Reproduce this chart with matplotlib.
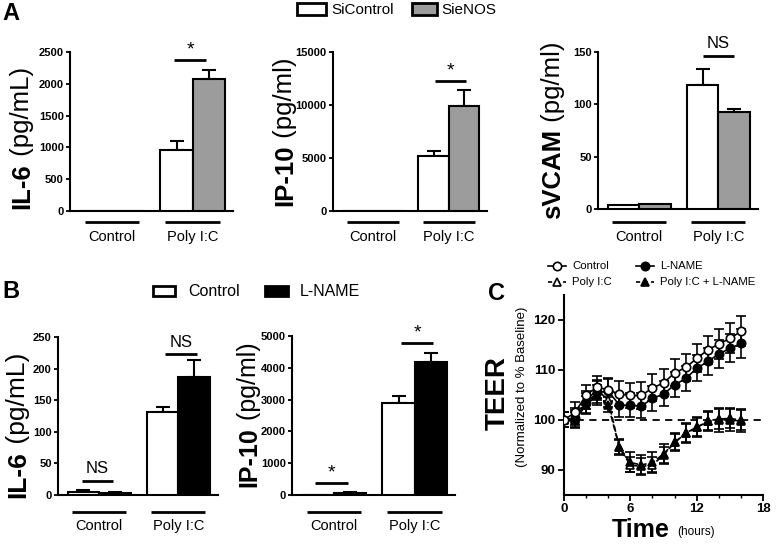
import matplotlib
matplotlib.use("Agg")
import matplotlib.pyplot as plt
import matplotlib.transforms as mtrans
from matplotlib.patches import Rectangle
from matplotlib.lines import Line2D
import numpy as np

plt.rcParams['font.family'] = ['Liberation Sans', 'DejaVu Sans']

# ---------------- data ----------------
categories = ["Control", "Poly I:C"]
legend_A = ["SiControl", "SieNOS"]
legend_B = ["Control", "L-NAME"]

il6_A_si = [0, 960]
il6_A_si_err = [0, 140]
il6_A_enos = [0, 2070]
il6_A_enos_err = [0, 150]

ip10_A_si = [0, 5200]
ip10_A_si_err = [0, 450]
ip10_A_enos = [0, 9900]
ip10_A_enos_err = [0, 1500]

svcam_A_si = [3.5, 118]
svcam_A_si_err = [0, 16]
svcam_A_enos = [4.5, 93]
svcam_A_enos_err = [0, 3]

il6_B_ctrl = [4, 132]
il6_B_ctrl_err = [4, 7]
il6_B_lname = [3, 187]
il6_B_lname_err = [2, 26]

ip10_B_ctrl = [10, 2880]
ip10_B_ctrl_err = [0, 230]
ip10_B_lname = [75, 4180]
ip10_B_lname_err = [15, 300]

hours = list(range(17))
teer_control = [100, 101.5, 105, 106.6, 106, 105.2, 104.9, 104.9, 106.4, 107.4, 109.4, 110.5, 112.3, 114, 115.2, 116.3, 117.7]
teer_control_err = [1.5, 2, 2, 2.3, 2.3, 2.5, 2.5, 2.7, 2.7, 2.7, 2.7, 2.7, 2.8, 2.8, 3, 3, 3]
teer_lname = [100, 100.3, 103.4, 105.5, 105.8, 103, 102.9, 102.8, 104.3, 105.2, 107, 108.3, 110.3, 111.7, 113.2, 114.3, 115.3]
teer_lname_err = [1.5, 2, 2, 2.2, 2.3, 2.4, 2.4, 2.5, 2.5, 2.5, 2.5, 2.6, 2.6, 2.7, 2.8, 2.8, 2.9]
teer_poly = [100, 100.5, 104, 106, 104, 94.5, 91, 90.7, 91, 93, 95.5, 97.4, 98.5, 99.8, 100.2, 100.3, 100]
teer_poly_err = [1.5, 1.5, 1.8, 2, 1.5, 1.5, 1.5, 1.6, 1.6, 1.6, 1.6, 1.8, 1.8, 1.8, 2, 2, 2]
teer_poly_lname = [100, 100, 103, 105, 103, 94.6, 91.5, 91, 91.5, 93.2, 95.5, 97.3, 98.5, 99.7, 100, 100, 99.8]
teer_poly_lname_err = [1.5, 1.5, 1.8, 2, 1.5, 1.5, 2, 2, 2, 2, 1.8, 2, 2, 2, 2.4, 2.2, 2.3]

# ---------------- layout helpers ----------------
W, H = 778, 544
fig = plt.figure(figsize=(W / 100, H / 100), dpi=100)
renderer = fig.canvas.get_renderer()


def add_ax(x0, y0, x1, y1):
    return fig.add_axes([x0 / W, 1 - y1 / H, (x1 - x0) / W, (y1 - y0) / H])


def fx(x):
    return x / W


def fy(y):
    return 1 - y / H


GREY = '#9c9c9c'


def bar_panel(ax, box, v1, e1, v2, e2, c1, c2, ymax, ystep, line_off, lab_off, sig):
    x = np.arange(len(categories))
    w = 0.4
    ax.bar(x - w / 2, v1, w, color=c1, edgecolor='black', linewidth=1.5, zorder=3)
    ax.bar(x + w / 2, v2, w, color=c2, edgecolor='black', linewidth=1.5, zorder=3)
    for xi, v, e in zip(x - w / 2, v1, e1):
        if e > 0:
            ax.errorbar(xi, v, yerr=[[0], [e]], fmt='none', ecolor='black',
                        elinewidth=1.5, capsize=5, capthick=1.5, zorder=2)
    for xi, v, e in zip(x + w / 2, v2, e2):
        if e > 0:
            ax.errorbar(xi, v, yerr=[[0], [e]], fmt='none', ecolor='black',
                        elinewidth=1.5, capsize=5, capthick=1.5, zorder=2)
    ax.set_xlim(-0.52, 1.5)
    ax.set_ylim(0, ymax)
    ax.set_yticks(np.arange(0, ymax + 1, ystep))
    ax.set_yticklabels([str(int(t)) for t in np.arange(0, ymax + 1, ystep)],
                       fontsize=8, fontweight='bold')
    ax.set_xticks([])
    for s in ['top', 'right']:
        ax.spines[s].set_visible(False)
    for s in ['left', 'bottom']:
        ax.spines[s].set_linewidth(1.5)
    ax.tick_params(axis='y', length=3, width=1.3, pad=1.5)
    ax.patch.set_alpha(0)
    hpx = (box[3] - box[1])
    trans = mtrans.blended_transform_factory(ax.transData, ax.transAxes)
    for xi, cat in zip(x, categories):
        ax.plot([xi - 0.34, xi + 0.34], [-line_off / hpx] * 2, color='black', lw=2,
                transform=trans, clip_on=False, solid_capstyle='butt')
        ax.text(xi, -lab_off / hpx, cat, transform=trans, ha='center', va='center',
                fontsize=10.5)
    for xc, yl, txt in sig:
        ax.plot([xc - 0.2, xc + 0.2], [yl, yl], color='black', lw=2, transform=trans,
                clip_on=False, solid_capstyle='butt')
        if txt == '*':
            ax.text(xc, yl + 10 / hpx, txt, transform=trans, ha='center', va='center',
                    fontsize=14)
        else:
            ax.text(xc, yl + 12 / hpx, txt, transform=trans, ha='center', va='center',
                    fontsize=12)


def ylabel2(xc, yc, bold, reg, size):
    t1 = fig.text(0, 0, bold, rotation=90, rotation_mode='anchor', ha='left',
                  va='baseline', fontsize=size, fontweight='bold')
    t2 = fig.text(0, 0, reg, rotation=90, rotation_mode='anchor', ha='left',
                  va='baseline', fontsize=size)
    h1 = t1.get_window_extent(renderer).height
    h2 = t2.get_window_extent(renderer).height
    total = h1 + h2
    cap = 0.72 * size * 100 / 72
    xb = xc + cap / 2
    ybot = (H - yc) - total / 2
    t1.set_position((fx(xb), ybot / H))
    t2.set_position((fx(xb), (ybot + h1) / H))


# ---------------- panel A ----------------
boxA1 = (70, 52, 233, 211)
axA1 = add_ax(*boxA1)
bar_panel(axA1, boxA1, il6_A_si, il6_A_si_err, il6_A_enos, il6_A_enos_err, 'white', GREY,
          2500, 500, 11, 26, [(0.97, 0.95, '*')])
boxA2 = (333, 52, 487, 211)
axA2 = add_ax(*boxA2)
bar_panel(axA2, boxA2, ip10_A_si, ip10_A_si_err, ip10_A_enos, ip10_A_enos_err, 'white', GREY,
          15000, 5000, 11, 26, [(1.02, 0.82, '*')])
boxA3 = (598, 52, 758, 209)
axA3 = add_ax(*boxA3)
bar_panel(axA3, boxA3, svcam_A_si, svcam_A_si_err, svcam_A_enos, svcam_A_enos_err, 'white', GREY,
          150, 50, 13, 28, [(1.0, 0.975, 'NS')])

ylabel2(20, 138, 'IL-6', ' (pg/mL)', 18.5)
ylabel2(283, 132, 'IP-10', ' (pg/ml)', 18.5)
ylabel2(551, 130, 'sVCAM', ' (pg/ml)', 18.5)

# legend A
fig.patches.append(Rectangle((fx(297), fy(15)), 29 / W, 12 / H, facecolor='white',
                             edgecolor='black', lw=2, transform=fig.transFigure))
fig.text(fx(331), fy(9.5), legend_A[0], fontsize=11, va='center', ha='left')
fig.patches.append(Rectangle((fx(412), fy(15)), 25 / W, 12 / H, facecolor=GREY,
                             edgecolor='black', lw=2, transform=fig.transFigure))
fig.text(fx(441), fy(9.5), legend_A[1], fontsize=11, va='center', ha='left')

# ---------------- panel B ----------------
boxB1 = (58, 337, 218, 495)
axB1 = add_ax(*boxB1)
bar_panel(axB1, boxB1, il6_B_ctrl, il6_B_ctrl_err, il6_B_lname, il6_B_lname_err, 'white', 'black',
          250, 50, 17, 31, [(-0.02, 0.089, 'NS'), (1.03, 0.89, 'NS')])
boxB2 = (292, 336, 455, 495)
axB2 = add_ax(*boxB2)
bar_panel(axB2, boxB2, ip10_B_ctrl, ip10_B_ctrl_err, ip10_B_lname, ip10_B_lname_err, 'white', 'black',
          5000, 1000, 17, 31, [(-0.03, 0.075, '*'), (1.03, 0.955, '*')])

ylabel2(16, 425, 'IL-6', ' (pg/mL)', 19)
ylabel2(247, 415, 'IP-10', ' (pg/ml)', 18)

fig.patches.append(Rectangle((fx(153), fy(296)), 22 / W, 10 / H, facecolor='white',
                             edgecolor='black', lw=2, transform=fig.transFigure))
fig.text(fx(188), fy(291), legend_B[0], fontsize=11.5, va='center', ha='left')
fig.patches.append(Rectangle((fx(265), fy(296)), 23 / W, 10 / H, facecolor='black',
                             edgecolor='black', lw=2, transform=fig.transFigure))
fig.text(fx(300), fy(291), legend_B[1], fontsize=11.5, va='center', ha='left')

# ---------------- panel C ----------------
boxC = (564, 295, 763, 495)
axC = add_ax(*boxC)
series = [
    (teer_poly, teer_poly_err, '^', 'white', '--', 'Poly I:C'),
    (teer_poly_lname, teer_poly_lname_err, '^', 'black', '--', 'Poly I:C + L-NAME'),
    (teer_lname, teer_lname_err, 'o', 'black', '-', 'L-NAME'),
    (teer_control, teer_control_err, 'o', 'white', '-', 'Control'),
]
axC.axhline(100, color='black', lw=1.3, ls=(0, (4, 3)), zorder=1)
for vals, errs, mk, fc, ls, lab in series:
    axC.errorbar(hours, vals, yerr=errs, fmt='none', ecolor='black', elinewidth=1.2,
                 capsize=3.5, capthick=1.2, zorder=2)
    axC.plot(hours, vals, color='black', lw=1.2, ls=ls, marker=mk, markersize=6,
             markerfacecolor=fc, markeredgecolor='black', markeredgewidth=1.2, zorder=3)
axC.set_xlim(0, 18)
axC.set_ylim(85, 125)
axC.set_xticks([0, 6, 12, 18])
axC.set_xticks([2, 4, 8, 10, 14, 16], minor=True)
axC.set_yticks([90, 100, 110, 120])
axC.set_xticklabels(['0', '6', '12', '18'], fontsize=9.5, fontweight='bold')
axC.set_yticklabels(['90', '100', '110', '120'], fontsize=9.5, fontweight='bold')
for s in ['top', 'right']:
    axC.spines[s].set_visible(False)
for s in ['left', 'bottom']:
    axC.spines[s].set_linewidth(1.5)
axC.tick_params(axis='both', which='major', length=4, width=1.3, pad=2)
axC.tick_params(axis='x', which='minor', length=2.5, width=1.0)
axC.spines['bottom'].set_bounds(0, 18)

fig.text(fx(498), fy(393), 'TEER', rotation=90, fontsize=20, fontweight='bold',
         ha='center', va='center')
fig.text(fx(522), fy(387), '(Normalized to % Baseline)', rotation=90, fontsize=9.5,
         ha='center', va='center')
fig.text(fx(641), fy(530), 'Time', fontsize=18, fontweight='bold', ha='center', va='center')
fig.text(fx(677), fy(532), '(hours)', fontsize=8.5, ha='left', va='center')

# legend C (drawn manually in figure space)
leg_items = [
    (557, 266, 'o', 'white', '-', 'Control'),
    (645, 266, 'o', 'black', '-', 'L-NAME'),
    (557, 282, '^', 'white', '--', 'Poly I:C'),
    (645, 282, '^', 'black', '--', 'Poly I:C + L-NAME'),
]
for xm, ym, mk, fc, ls, lab in leg_items:
    fig.add_artist(Line2D([fx(xm - 9), fx(xm + 9)], [fy(ym), fy(ym)], color='black', lw=1.2,
                          ls=ls if ls == '-' else (0, (2.5, 2)), transform=fig.transFigure))
    fig.add_artist(Line2D([fx(xm)], [fy(ym)], marker=mk, markersize=6, markerfacecolor=fc,
                          markeredgecolor='black', markeredgewidth=1.2, ls='none',
                          transform=fig.transFigure))
    fig.text(fx(xm + 15), fy(ym), lab, fontsize=8.2, ha='left', va='center')

# panel letters
fig.text(fx(2), fy(14), 'A', fontsize=17, fontweight='bold', ha='left', va='center')
fig.text(fx(2), fy(292), 'B', fontsize=17, fontweight='bold', ha='left', va='center')
fig.text(fx(488), fy(294), 'C', fontsize=17, fontweight='bold', ha='left', va='center')

fig.savefig('out.png', dpi=100)
